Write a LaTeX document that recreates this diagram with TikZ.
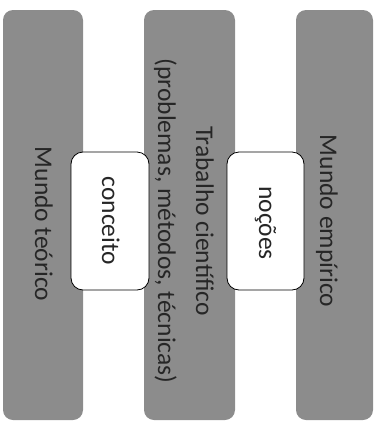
\documentclass[tikz,border=0pt]{standalone}
\usepackage{fontspec}
\setmainfont{Carlito}
\definecolor{bargray}{gray}{0.55}
\begin{document}
\begin{tikzpicture}[x=1bp,y=-1bp,
  bar/.style={fill=bargray, draw=none, rounded corners=10bp},
  wbox/.style={fill=white, draw=black, line width=0.8bp, rounded corners=12bp},
  lbl/.style={rotate=-90, inner sep=0pt, font=\fontsize{25.5bp}{38bp}\selectfont, text=black!85}]
\useasboundingbox (0,0) rectangle (379,424);
% bars
\path[bar] (3,10) rectangle (83,420) coordinate (b1);
\path[bar] (144,10) rectangle (235,420) coordinate (b2);
\path[bar] (296,10) rectangle (373,420) coordinate (b3);
% white boxes
\draw[wbox] (71,152) rectangle (149,290) coordinate (w1);
\draw[wbox] (227,152) rectangle (304,290) coordinate (w2);
% labels
\node[lbl, anchor=base] (teorico) at (35,224) {Mundo teórico};
\node[lbl, anchor=base] (conceito) at (102,221) {conceito};
\node[lbl, align=center] (trabalho) at (184,221) {Trabalho científico\\(problemas, métodos, técnicas)};
\node[lbl, anchor=base] (nocoes) at (259,223) {noções};
\node[lbl, anchor=base] (empirico) at (320,221) {Mundo empírico};
\end{tikzpicture}
\end{document}
